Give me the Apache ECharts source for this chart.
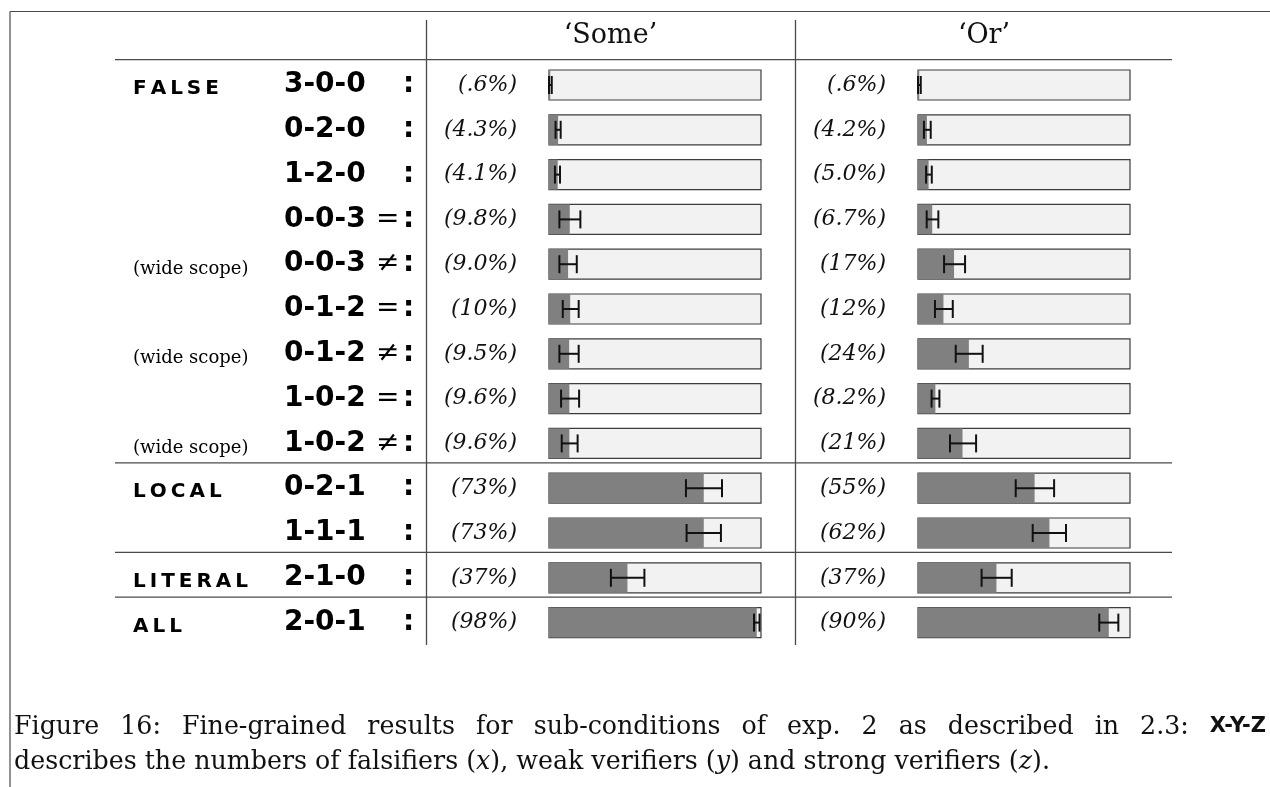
<!DOCTYPE html>
<html>
<head>
<meta charset="utf-8">
<title>Figure 16</title>
<script src="https://cdn.jsdelivr.net/npm/echarts@6/dist/echarts.min.js"></script>
<style>
  html, body { margin: 0; padding: 0; background: #fff; }
  #chart { width: 1270px; height: 787px; }
</style>
</head>
<body>
<div id="chart"></div>
<script>
// row labels
var groupLabels = ['FALSE', '', '', '', '(wide scope)', '', '(wide scope)', '', '(wide scope)', 'LOCAL', '', 'LITERAL', 'ALL'];
var codes = ['3-0-0', '0-2-0', '1-2-0', '0-0-3', '0-0-3', '0-1-2', '0-1-2', '1-0-2', '1-0-2', '0-2-1', '1-1-1', '2-1-0', '2-0-1'];
var relations = ['', '', '', '=', '≠', '=', '≠', '=', '≠', '', '', '', ''];

// 'Some'
var someValues = [0.6, 4.3, 4.1, 9.8, 9.0, 10, 9.5, 9.6, 9.6, 73, 73, 37, 98];
var someText = ['.6%', '4.3%', '4.1%', '9.8%', '9.0%', '10%', '9.5%', '9.6%', '9.6%', '73%', '73%', '37%', '98%'];
var someLow = [0, 3.1, 2.8, 4.9, 4.9, 6.5, 4.9, 5.7, 6.0, 64.6, 64.9, 29.2, 96.7];
var someHigh = [1.3, 5.5, 5.2, 14.8, 13.1, 14.0, 14.0, 14.2, 13.5, 81.6, 81.1, 45.0, 99.3];

// 'Or'
var orValues = [0.6, 4.2, 5.0, 6.7, 17, 12, 24, 8.2, 21, 55, 62, 37, 90];
var orText = ['.6%', '4.2%', '5.0%', '6.7%', '17%', '12%', '24%', '8.2%', '21%', '55%', '62%', '37%', '90%'];
var orLow = [0, 2.8, 3.8, 4.1, 12.3, 8.0, 17.8, 6.4, 15.1, 46.1, 54.1, 30.0, 85.5];
var orHigh = [1.3, 6.0, 6.5, 9.6, 22.2, 16.4, 30.5, 10.1, 27.4, 64.2, 69.8, 44.2, 94.5];

var headers = ['‘Some’', '‘Or’'];
var captionLine1 = 'Figure 16: Fine-grained results for sub-conditions of exp. 2 as described in 2.3:';
var captionCode = 'X-Y-Z';
var sectionEnds = [8, 10, 11]; // rule drawn below these rows

var rowKeys = codes.map(function (c, i) { return String(i); });

// layout
var gridTop = 62.6, rowH = 44.8;
var gridH = rowH * codes.length;
var serif = '"DejaVu Serif", serif';
var sans = '"DejaVu Sans", sans-serif';
var ruleColor = '#4a4a4a';

function spaced(s) {
    return s.split('').join('\u2009');
}

function rowLabel(v, i) {
    var g = groupLabels[i];
    var gp = '{g| }';
    if (g) {
        gp = g.charAt(0) === '(' ? '{ws|' + g + '}' : '{g|' + spaced(g) + '}';
    }
    return gp + '{c|' + codes[i] + '}{r|' + (relations[i] || ' ') + '}{col|:}';
}

function pctAxis(gi, texts) {
    return {
        gridIndex: gi, type: 'category', inverse: true, data: rowKeys, position: 'left',
        axisLine: {show: false}, axisTick: {show: false}, splitLine: {show: false},
        axisLabel: {
            interval: 0, margin: 32, color: '#111',
            fontFamily: serif, fontStyle: 'italic', fontSize: 22,
            formatter: function (v, i) { return '(' + texts[i] + ')'; }
        }
    };
}

function errorSeries(idx, low, high) {
    return {
        type: 'custom', xAxisIndex: idx, yAxisIndex: idx, z: 5,
        encode: {x: [1, 2], y: 0},
        data: low.map(function (lo, i) { return [i, lo, high[i]]; }),
        renderItem: function (params, api) {
            var row = api.value(0);
            var a = api.coord([api.value(1), row]);
            var b = api.coord([api.value(2), row]);
            var h = 9;
            var st = {stroke: '#111', lineWidth: 2};
            return {
                type: 'group', children: [
                    {type: 'line', shape: {x1: a[0], y1: a[1], x2: b[0], y2: b[1]}, style: st},
                    {type: 'line', shape: {x1: a[0], y1: a[1] - h, x2: a[0], y2: a[1] + h}, style: st},
                    {type: 'line', shape: {x1: b[0], y1: b[1] - h, x2: b[0], y2: b[1] + h}, style: st}
                ]
            };
        }
    };
}

function barSeries(idx, values) {
    return {
        type: 'bar', xAxisIndex: idx, yAxisIndex: idx, data: values, barWidth: 30,
        itemStyle: {color: '#808080'},
        showBackground: true,
        backgroundStyle: {color: '#f2f2f2', borderColor: '#3c3c3c', borderWidth: 1.2},
        silent: true
    };
}

function hline(x1, x2, y, w) {
    return {type: 'line', shape: {x1: x1, y1: y, x2: x2, y2: y}, style: {stroke: ruleColor, lineWidth: w || 1.3}};
}
function vline(x, y1, y2, w) {
    return {type: 'line', shape: {x1: x, y1: y1, x2: x, y2: y2}, style: {stroke: ruleColor, lineWidth: w || 1.3}};
}

// justified first caption line
function captionElements() {
    var ctx = document.createElement('canvas').getContext('2d');
    var fSerif = '25.3px "DejaVu Serif"';
    var fCode = 'bold 21px "DejaVu Sans"';
    var words = captionLine1.split(' ');
    var widths = [];
    ctx.font = fSerif;
    words.forEach(function (w) { widths.push(ctx.measureText(w).width); });
    ctx.font = fCode;
    var codeW = ctx.measureText(captionCode).width;
    var left = 14, right = 1266;
    var total = widths.reduce(function (a, b) { return a + b; }, 0) + codeW;
    var gap = (right - left - total) / words.length;
    var els = [];
    var x = left;
    words.forEach(function (w, i) {
        els.push({type: 'text', x: x, y: 727, style: {text: w, font: fSerif, fill: '#111', align: 'left', verticalAlign: 'middle', textAlign: 'left', textVerticalAlign: 'middle'}});
        x += widths[i] + gap;
    });
    els.push({type: 'text', x: right, y: 727, style: {text: captionCode, font: fCode, fill: '#111', align: 'right', verticalAlign: 'middle', textAlign: 'right', textVerticalAlign: 'middle'}});
    els.push({
        type: 'text', x: left, y: 762,
        style: {
            text: 'describes the numbers of falsifiers ({i|x}), weak verifiers ({i|y}) and strong verifiers ({i|z}).',
            font: fSerif, fill: '#111', align: 'left', verticalAlign: 'middle', textAlign: 'left', textVerticalAlign: 'middle',
            rich: {i: {fontFamily: serif, fontStyle: 'italic', fontSize: 25.3, fill: '#111'}}
        }
    });
    return els;
}

var graphics = [
    hline(10, 1270, 11.5, 1.2),
    vline(10, 11.5, 787, 1.2),
    vline(426.5, 20, gridTop + gridH),
    vline(795.5, 20, gridTop + gridH),
    hline(115, 1172, gridTop - 3)
];
sectionEnds.forEach(function (r) {
    graphics.push(hline(115, 1172, gridTop + (r + 1) * rowH - 3));
});
graphics.push({type: 'text', x: 610.5, y: 36, style: {text: headers[0], font: '27px "DejaVu Serif"', fill: '#111', align: 'center', verticalAlign: 'middle', textAlign: 'center', textVerticalAlign: 'middle'}});
graphics.push({type: 'text', x: 984, y: 36, style: {text: headers[1], font: '27px "DejaVu Serif"', fill: '#111', align: 'center', verticalAlign: 'middle', textAlign: 'center', textVerticalAlign: 'middle'}});
graphics = graphics.concat(captionElements());

var chart = echarts.init(document.getElementById('chart'), null, {renderer: 'canvas'});
var option = {
    animation: false,
    backgroundColor: '#fff',
    grid: [
        {left: 549, width: 212, top: gridTop, height: gridH, outerBoundsMode: 'none'},
        {left: 918, width: 212, top: gridTop, height: gridH, outerBoundsMode: 'none'}
    ],
    xAxis: [
        {gridIndex: 0, type: 'value', min: 0, max: 100, show: false},
        {gridIndex: 1, type: 'value', min: 0, max: 100, show: false}
    ],
    yAxis: [
        pctAxis(0, someText),
        pctAxis(1, orText),
        {
            gridIndex: 0, type: 'category', inverse: true, data: rowKeys, position: 'left', offset: 416,
            axisLine: {show: false}, axisTick: {show: false}, splitLine: {show: false},
            axisLabel: {
                interval: 0, margin: 0, align: 'left', color: '#000',
                formatter: rowLabel,
                rich: {
                    g: {width: 151, align: 'left', fontFamily: sans, fontWeight: 'bold', fontSize: 20, color: '#000', verticalAlign: 'bottom'},
                    ws: {width: 151, align: 'left', fontFamily: serif, fontSize: 18, color: '#000', verticalAlign: 'bottom'},
                    c: {width: 92, align: 'left', fontFamily: sans, fontWeight: 'bold', fontSize: 28, color: '#000', verticalAlign: 'bottom'},
                    r: {width: 27, align: 'left', fontFamily: serif, fontSize: 28, color: '#000', verticalAlign: 'bottom'},
                    col: {fontFamily: sans, fontWeight: 'bold', fontSize: 28, color: '#000', verticalAlign: 'bottom'}
                }
            }
        }
    ],
    series: [
        barSeries(0, someValues),
        barSeries(1, orValues),
        errorSeries(0, someLow, someHigh),
        errorSeries(1, orLow, orHigh)
    ],
    graphic: graphics
};
chart.setOption(option);
</script>
</body>
</html>
